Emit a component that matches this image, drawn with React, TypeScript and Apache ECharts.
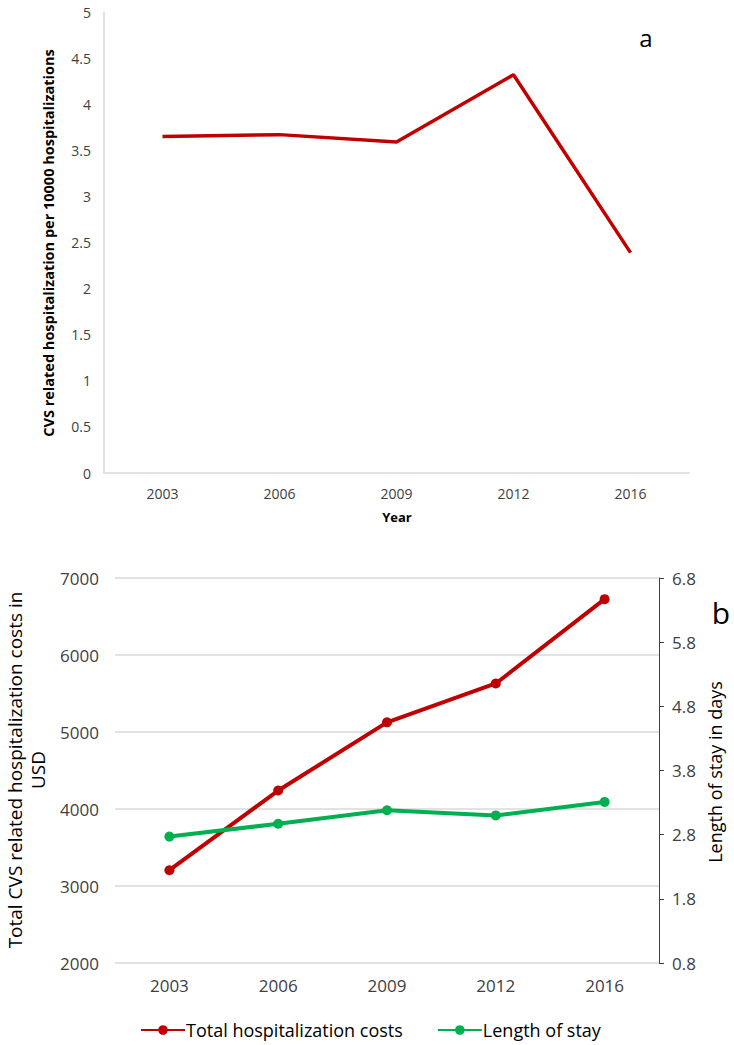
import React, { useEffect, useRef } from "react";
import * as echarts from "echarts";

const years = ["2003", "2006", "2009", "2012", "2016"];
const cvsRate = [3.65, 3.67, 3.59, 4.32, 2.39];
const totalCosts = [3205, 4240, 5125, 5630, 6725];
const lengthOfStay = [2.77, 2.97, 3.18, 3.1, 3.31];

const RED = "#c00000";
const GREEN = "#00b050";
const FONT = "'Open Sans', 'Noto Sans', sans-serif";
const TITLE_FONT = "'Open Sans', 'Noto Sans', sans-serif";

export default function App() {
  const ref = useRef<HTMLDivElement>(null);
  useEffect(() => {
    if (!ref.current) return;
    const chart = echarts.init(ref.current, undefined, { renderer: "svg" });
    chart.setOption({
      animation: false,
      backgroundColor: "#ffffff",
      grid: [
        { left: 104, top: 12, width: 585, height: 461 },
        { left: 115, top: 578, width: 544, height: 385 },
      ],
      xAxis: [
        {
          gridIndex: 0,
          type: "category",
          data: years,
          boundaryGap: true,
          axisLine: { show: true, lineStyle: { color: "#d9d9d9", width: 1.5 } },
          axisTick: { show: false },
          axisLabel: { color: "#404040", fontSize: 14, fontFamily: FONT, margin: 13 },
        },
        {
          gridIndex: 1,
          type: "category",
          data: years,
          boundaryGap: true,
          axisLine: { show: false },
          axisTick: { show: false },
          axisLabel: { color: "#404040", fontSize: 17, fontFamily: FONT, margin: 14 },
        },
      ],
      yAxis: [
        {
          gridIndex: 0,
          type: "value",
          min: 0,
          max: 5,
          interval: 0.5,
          axisLine: { show: true, lineStyle: { color: "#d9d9d9", width: 1.5 } },
          axisTick: { show: false },
          splitLine: { show: false },
          axisLabel: { color: "#404040", fontSize: 14, fontFamily: FONT, margin: 13 },
        },
        {
          gridIndex: 1,
          type: "value",
          min: 2000,
          max: 7000,
          interval: 1000,
          axisLine: { show: false },
          axisTick: { show: false },
          splitLine: { show: true, lineStyle: { color: "#d9d9d9", width: 1.5 } },
          axisLabel: {
            color: "#404040",
            fontSize: 17,
            fontFamily: FONT,
            margin: 16,
            formatter: (v: number) => String(v),
          },
        },
        {
          gridIndex: 1,
          type: "value",
          position: "right",
          min: 0.8,
          max: 6.8,
          interval: 1,
          axisLine: { show: true, lineStyle: { color: "#404040", width: 1 } },
          axisTick: { show: true, length: 5, lineStyle: { color: "#404040" } },
          splitLine: { show: false },
          axisLabel: {
            color: "#404040",
            fontSize: 17,
            fontFamily: FONT,
            margin: 13,
            formatter: (v: number) => v.toFixed(1),
          },
        },
      ],
      legend: {
        left: 135,
        top: 1016,
        itemWidth: 44,
        itemHeight: 12,
        itemGap: 34,
        textStyle: { fontSize: 18, fontFamily: FONT, color: "#000", padding: [0, 0, 0, -4] },
        data: ["Total hospitalization costs", "Length of stay"],
      },
      graphic: [
        {
          type: "text",
          x: 48,
          y: 243,
          rotation: Math.PI / 2,
          style: {
            text: "CVS related hospitalization per 10000 hospitalizations",
            fontFamily: TITLE_FONT,
            fontWeight: "bold",
            fontSize: 14.5,
            fill: "#000",
            align: "center",
            verticalAlign: "middle",
          },
        },
        {
          type: "text",
          x: 397,
          y: 517,
          style: {
            text: "Year",
            fontFamily: TITLE_FONT,
            fontWeight: "bold",
            fontSize: 13,
            fill: "#000",
            align: "center",
            verticalAlign: "middle",
          },
        },
        {
          type: "text",
          x: 646,
          y: 37,
          style: {
            text: "a",
            fontFamily: TITLE_FONT,
            fontSize: 24,
            fill: "#000",
            align: "center",
            verticalAlign: "middle",
          },
        },
        {
          type: "text",
          x: 26,
          y: 770,
          rotation: Math.PI / 2,
          style: {
            text: "Total CVS related hospitalization costs in\nUSD",
            fontFamily: TITLE_FONT,
            fontSize: 19,
            lineHeight: 23,
            fill: "#000",
            align: "center",
            verticalAlign: "middle",
          },
        },
        {
          type: "text",
          x: 715,
          y: 772,
          rotation: Math.PI / 2,
          style: {
            text: "Length of stay in days",
            fontFamily: TITLE_FONT,
            fontSize: 18,
            fill: "#000",
            align: "center",
            verticalAlign: "middle",
          },
        },
        {
          type: "text",
          x: 721,
          y: 612,
          style: {
            text: "b",
            fontFamily: TITLE_FONT,
            fontSize: 30,
            fill: "#000",
            align: "center",
            verticalAlign: "middle",
          },
        },
      ],
      series: [
        {
          name: "CVS rate",
          type: "line",
          xAxisIndex: 0,
          yAxisIndex: 0,
          data: cvsRate,
          symbol: "none",
          lineStyle: { color: RED, width: 3.5 },
          itemStyle: { color: RED },
        },
        {
          name: "Total hospitalization costs",
          type: "line",
          xAxisIndex: 1,
          yAxisIndex: 1,
          data: totalCosts,
          symbol: "circle",
          symbolSize: 10,
          lineStyle: { color: RED, width: 4 },
          itemStyle: { color: RED },
        },
        {
          name: "Length of stay",
          type: "line",
          xAxisIndex: 1,
          yAxisIndex: 2,
          data: lengthOfStay,
          symbol: "circle",
          symbolSize: 10,
          lineStyle: { color: GREEN, width: 4 },
          itemStyle: { color: GREEN },
        },
      ],
    });
    return () => chart.dispose();
  }, []);
  return (
    <div
      ref={ref}
      style={{ position: "absolute", left: 0, top: 0, width: 734, height: 1045 }}
    />
  );
}
